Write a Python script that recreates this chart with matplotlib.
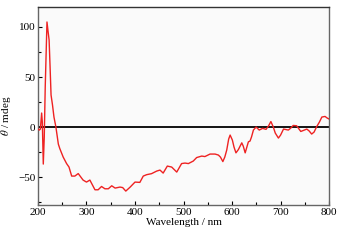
import matplotlib
matplotlib.use("Agg")
import matplotlib.pyplot as plt
from matplotlib.ticker import MultipleLocator

plt.rcParams['font.family'] = ['Liberation Serif', 'DejaVu Serif']
plt.rcParams['mathtext.fontset'] = 'stix'

# CD spectrum
wavelength = [200, 203, 205, 207.6, 209, 211, 213, 215, 218.6, 221, 223, 225, 227, 230, 233,
              237, 242, 245, 252, 259, 264, 269.5, 276, 283, 293, 300, 307, 317.5, 324, 331,
              338, 345, 352, 359, 369, 374.6, 381, 390, 400, 410, 417, 424, 434, 444.7,
              451.5, 458, 466.6, 475.6, 486, 496, 503, 510, 520, 527, 537.5, 544, 554.6,
              565, 571.8, 576, 581, 585, 589, 593, 596, 600.6, 604, 608, 613, 620, 623, 627,
              633.6, 637, 640, 644, 649.5, 656, 663, 670, 675, 680, 685, 689, 695.5, 700,
              706, 716, 721, 726, 733, 741.6, 747, 754, 759, 764, 769, 774.6, 780, 785,
              791.6, 796, 800]
theta = [-2, -3, -2, 14, 5, -37, -10, 40, 105, 95, 87, 60, 32, 22, 10,
         0, -17, -21.5, -30, -36.5, -40, -49, -49, -46.5, -53, -55, -53, -62.7, -62.7, -59.4,
         -61.7, -61.7, -58.7, -61, -60, -60.5, -64, -60, -55, -55.3, -49, -47.6, -46.6, -44,
         -43, -46, -39, -40, -45, -36.5, -36, -36.5, -34, -30.5, -29, -29.5, -27,
         -27, -28, -30, -34.5, -30, -23, -12, -8, -13, -20, -25.8, -22.5, -15.8, -19, -25.8,
         -14.8, -14, -10, -3, 0, -3, -1.3, -2.3, 1, 5.5, 0, -6, -11, -8,
         -2, -3, -1, 1.6, 1.3, -4.4, -3.4, -2, -4, -7, -5, 0.6, 5, 10,
         10.6, 9, 8]

fig = plt.figure(figsize=(3.45, 2.41), dpi=100, facecolor='white')
ax = fig.add_axes([0.110, 0.149, 0.844, 0.822])
ax.set_facecolor('#fafafa')

ax.axhline(0, color='black', lw=1.3, zorder=2)
ax.plot(wavelength, theta, color='#ee2222', lw=1.0, zorder=3)

ax.set_xlim(200, 800)
ax.set_ylim(-78, 120)
ax.xaxis.set_major_locator(MultipleLocator(100))
ax.xaxis.set_minor_locator(MultipleLocator(50))
ax.set_yticks([-50, 0, 50, 100])
ax.yaxis.set_minor_locator(MultipleLocator(25))

ax.tick_params(which='both', direction='in', labelsize=8, pad=2)
ax.tick_params(which='major', length=3, width=0.8)
ax.tick_params(which='minor', length=2, width=0.8)

for s in ['left', 'bottom', 'right']:
    ax.spines[s].set_color('#666666')
    ax.spines[s].set_linewidth(1.0)
ax.spines['top'].set_color('#333333')
ax.spines['top'].set_linewidth(1.0)

ax.set_xlabel('Wavelength / nm', fontsize=8, labelpad=1)
ax.set_ylabel(r'$\theta$ / mdeg', fontsize=8)
ax.yaxis.set_label_coords(-0.085, 0.45)

fig.savefig('out.png', dpi=100, facecolor='white')
